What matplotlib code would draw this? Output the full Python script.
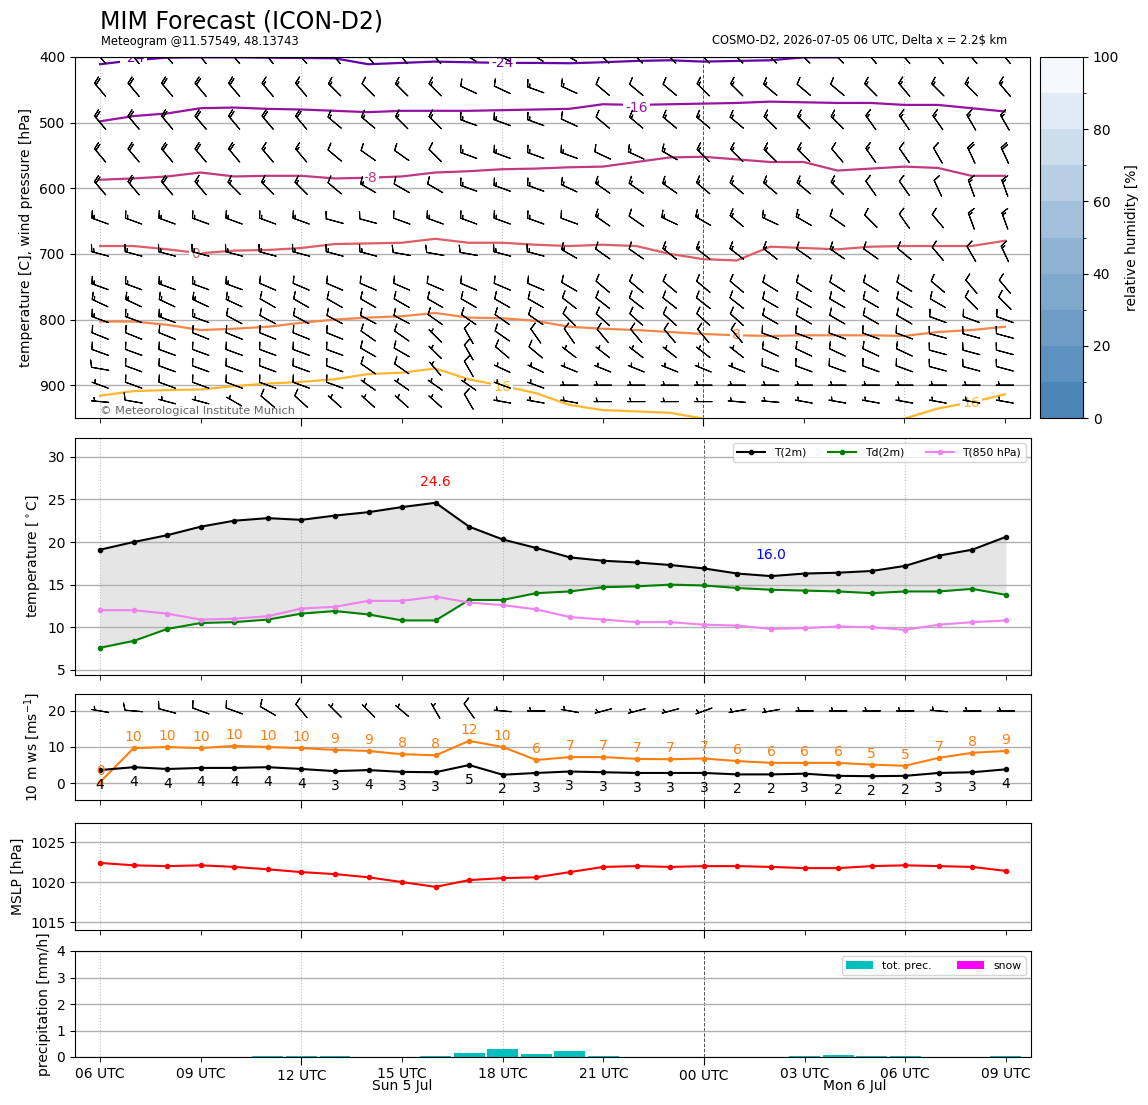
import numpy as np
import matplotlib
matplotlib.use('Agg')
import matplotlib.pyplot as plt
import matplotlib.transforms as mtransforms
from matplotlib.colors import LinearSegmentedColormap, BoundaryNorm
from matplotlib.cm import ScalarMappable

# ---------------- data ----------------
# hours after 2026-07-05 06 UTC
hours = np.arange(28)
tick_major = [6, 18]
tick_major_lab = ['12 UTC', '00 UTC']
tick_minor = [0, 3, 9, 12, 15, 21, 24, 27]
tick_minor_lab = ['06 UTC', '09 UTC', '15 UTC', '18 UTC', '21 UTC', '03 UTC', '06 UTC', '09 UTC']
day_pos = [9, 22.5]
day_lab = ['Sun 5 Jul', 'Mon 6 Jul']

# isotherms: pressure [hPa] of each temperature line per hour
nan = np.nan
iso_levels = [-24, -16, -8, 0, 8, 16]
iso_m24 = [411, 405, 401, 400.5, 400.5, 401, 401.5, 402, 411, 409, 407, 408, 409, 409,
           409.5, 408, 406, 405, 407, 406, 405, 400.5, 400.5, nan, nan, nan, nan, nan]
iso_m16 = [498, 490, 486, 478, 477, 479, 480, 482, 484, 482, 482, 482, 481, 480,
           479, 472, 473, 472, 471, 470, 468, 469, 470, 470, 473, 473, 478, 483]
iso_m8 = [587, 585, 582, 576, 582, 581, 581, 585, 584, 582, 576, 574, 571, 570,
          568, 567, 560, 553, 552, 556, 560, 560, 573, 570, 567, 569, 581, 581]
iso_0 = [688, 688, 693, 699, 695, 694, 691, 685, 684, 683, 677, 683, 683, 686,
         688, 686, 688, 700, 708, 710, 689, 691, 693, 689, 688, 688, 688, 680]
iso_8 = [803, 803, 808, 816, 814, 811, 805, 800, 797, 795, 790, 797, 798, 802,
         811, 814, 816, 819, 822, 824, 825, 824, 824, 824, 825, 819, 816, 811]
iso_16 = [916, 909, 907.5, 906.5, 901.5, 897.5, 895, 891, 883, 881, 874.5, 891, 901, 912,
          930, 938, 940, 942, 951, nan, nan, nan, nan, nan, 951, 935.5, 926, 914]

# upper winds: direction [deg] and speed [kn] per pressure level
levels = [400, 450, 500, 550, 600, 650, 700, 750, 775, 800, 825, 850, 875, 900, 925]
dir400 = [320, 320, 320, 320, 320, 320, 320, 320, 320, 320, 320, 300, 300, 300,
          300, 315, 315, 315, 315, 315, 315, 315, 315, 320, 320, 320, 320, 320]
spd400 = [20, 20, 20, 20, 20, 20, 20, 15, 15, 15, 15, 15, 15, 15,
          15, 15, 15, 15, 15, 15, 15, 15, 15, 15, 15, 15, 15, 15]
dir450 = [320, 320, 320, 320, 320, 320, 320, 315, 315, 315, 315, 295, 295, 290,
          295, 310, 310, 310, 315, 315, 310, 310, 310, 315, 320, 315, 315, 320]
spd450 = [20, 20, 20, 20, 20, 15, 15, 15, 10, 15, 15, 10, 10, 15,
          15, 10, 10, 10, 15, 15, 15, 10, 10, 15, 15, 15, 15, 15]
dir500 = [320, 320, 320, 320, 320, 320, 320, 310, 310, 315, 315, 290, 290, 290,
          295, 310, 310, 310, 310, 310, 315, 315, 315, 325, 325, 325, 330, 330]
spd500 = [20, 20, 20, 20, 20, 20, 20, 15, 15, 15, 15, 15, 15, 15,
          10, 10, 15, 15, 15, 15, 15, 15, 15, 15, 15, 15, 15, 15]
dir550 = [320, 320, 320, 320, 320, 320, 320, 310, 305, 305, 315, 290, 290, 290,
          290, 295, 295, 300, 315, 315, 315, 315, 320, 325, 325, 330, 335, 335]
spd550 = [20, 20, 20, 20, 20, 15, 15, 10, 10, 10, 10, 15, 15, 15,
          15, 10, 15, 15, 15, 15, 15, 15, 10, 15, 10, 10, 20, 20]
dir600 = [320, 320, 320, 320, 315, 315, 315, 310, 300, 300, 300, 290, 290, 290,
          295, 305, 305, 305, 310, 310, 310, 310, 315, 325, 325, 335, 340, 340]
spd600 = [20, 20, 20, 15, 15, 15, 15, 10, 15, 10, 10, 15, 15, 15,
          15, 15, 15, 15, 15, 15, 15, 15, 15, 10, 10, 10, 15, 15]
dir650 = [290, 290, 290, 290, 290, 290, 290, 285, 285, 290, 290, 290, 290, 290,
          290, 305, 305, 295, 300, 310, 295, 300, 305, 315, 325, 320, 340, 340]
spd650 = [15, 15, 15, 15, 15, 15, 15, 10, 10, 10, 15, 15, 15, 15,
          10, 15, 10, 15, 15, 15, 15, 15, 10, 10, 10, 10, 15, 15]
dir700 = [285, 285, 285, 285, 285, 285, 285, 285, 285, 280, 280, 280, 285, 285,
          300, 305, 305, 308, 308, 308, 308, 305, 305, 305, 310, 320, 330, 335]
spd700 = [15, 15, 15, 15, 15, 15, 15, 15, 15, 10, 10, 10, 15, 15,
          15, 10, 10, 15, 15, 15, 15, 10, 15, 10, 10, 10, 10, 15]
dir750 = [290, 290, 290, 290, 290, 293, 293, 293, 293, 293, 293, 293, 293, 293,
          300, 310, 310, 310, 310, 310, 302, 302, 302, 302, 302, 310, 320, 320]
spd750 = [15, 15, 15, 15, 15, 10, 10, 10, 10, 10, 10, 10, 10, 10,
          10, 10, 10, 10, 10, 10, 10, 10, 10, 10, 10, 10, 10, 10]
dir775 = [295, 295, 295, 295, 295, 300, 300, 300, 300, 300, 300, 300, 300, 300,
          308, 308, 308, 308, 308, 308, 300, 300, 300, 300, 300, 300, 315, 315]
spd775 = [15, 15, 15, 15, 15, 10, 10, 10, 10, 10, 10, 10, 10, 10,
          10, 10, 10, 10, 10, 10, 10, 10, 10, 10, 10, 10, 10, 10]
dir800 = [290, 290, 290, 290, 298, 298, 298, 298, 298, 298, 305, 305, 305, 305,
          315, 312, 312, 312, 312, 312, 300, 300, 300, 300, 300, 290, 290, 290]
spd800 = [15, 15, 15, 15, 10, 10, 10, 10, 10, 10, 10, 10, 10, 10,
          10, 10, 10, 10, 10, 10, 10, 10, 10, 10, 10, 10, 10, 10]
dir825 = [292, 292, 292, 292, 292, 292, 292, 292, 305, 305, 315, 330, 305, 325,
          325, 320, 320, 320, 320, 320, 290, 290, 290, 290, 290, 285, 285, 285]
spd825 = [10, 10, 10, 10, 10, 10, 10, 10, 10, 10, 5, 10, 10, 10,
          10, 10, 10, 10, 10, 10, 10, 10, 10, 10, 10, 10, 10, 10]
dir850 = [290, 290, 290, 290, 290, 290, 290, 290, 300, 300, 315, 330, 310, 310,
          308, 308, 308, 308, 308, 308, 295, 295, 295, 295, 295, 285, 285, 285]
spd850 = [10, 10, 10, 10, 10, 10, 10, 10, 10, 10, 5, 10, 10, 10,
          5, 5, 5, 5, 5, 5, 10, 10, 10, 10, 10, 10, 10, 10]
dir875 = [280, 290, 290, 290, 290, 290, 290, 290, 305, 305, 320, 330, 295, 295,
          292, 292, 292, 292, 292, 292, 290, 290, 290, 290, 290, 285, 285, 285]
spd875 = [10, 10, 10, 10, 10, 10, 10, 10, 10, 10, 5, 10, 5, 5,
          5, 5, 5, 5, 5, 5, 10, 10, 10, 10, 10, 10, 10, 10]
dir900 = [290, 290, 290, 290, 290, 290, 290, 290, 305, 305, 305, 305, 290, 290,
          270, 270, 270, 270, 270, 270, 270, 270, 270, 270, 270, 270, 270, 270]
spd900 = [5, 10, 10, 10, 10, 10, 10, 10, 5, 5, 5, 5, 5, 5,
          5, 5, 5, 5, 5, 5, 5, 5, 5, 5, 5, 5, 5, 5]
dir925 = [275, 280, 285, 285, 300, 310, 312, 312, 312, 312, 312, 330, 280, 280,
          280, 270, 270, 270, 270, 275, 275, 280, 280, 280, 280, 280, 280, 280]
spd925 = [5, 10, 5, 5, 5, 10, 10, 5, 5, 5, 5, 10, 5, 5,
          5, 5, 5, 5, 5, 5, 5, 5, 5, 5, 5, 5, 5, 5]

# 2 m temperatures [C]
t2m = [19.1, 20.0, 20.8, 21.8, 22.5, 22.8, 22.6, 23.1, 23.5, 24.1, 24.6, 21.8, 20.3, 19.3,
       18.2, 17.8, 17.6, 17.3, 16.9, 16.3, 16.0, 16.3, 16.4, 16.6, 17.2, 18.4, 19.1, 20.6]
td2m = [7.6, 8.4, 9.8, 10.5, 10.6, 10.9, 11.6, 11.9, 11.5, 10.8, 10.8, 13.2, 13.2, 14.0,
        14.2, 14.7, 14.8, 15.0, 14.9, 14.6, 14.4, 14.3, 14.2, 14.0, 14.2, 14.2, 14.5, 13.8]
t850 = [12.0, 12.0, 11.6, 10.9, 11.0, 11.3, 12.2, 12.4, 13.1, 13.1, 13.6, 12.9, 12.6, 12.1,
        11.2, 10.9, 10.6, 10.6, 10.3, 10.2, 9.8, 9.9, 10.1, 10.0, 9.7, 10.3, 10.6, 10.8]

# 10 m wind speed and gusts [m/s], direction [deg]
ws10 = [3.6, 4.4, 3.9, 4.2, 4.2, 4.4, 3.9, 3.3, 3.6, 3.1, 3.0, 5.0, 2.3, 2.8,
        3.2, 3.0, 2.8, 2.8, 2.8, 2.4, 2.4, 2.6, 2.0, 1.9, 2.0, 2.8, 3.0, 3.8]
gust10 = [0.3, 9.7, 10.0, 9.7, 10.3, 10.0, 9.7, 9.2, 8.9, 8.0, 7.7, 11.7, 10.0, 6.4,
          7.2, 7.2, 6.7, 6.6, 6.8, 6.1, 5.6, 5.6, 5.6, 5.1, 4.8, 7.0, 8.4, 8.9]
dir10 = [280, 275, 285, 290, 290, 300, 320, 315, 315, 310, 330, 325, 275, 270,
         280, 255, 255, 255, 250, 260, 260, 270, 270, 270, 270, 275, 270, 270]

# mean sea level pressure [hPa]
mslp = [1022.4, 1022.1, 1022.0, 1022.1, 1021.9, 1021.6, 1021.25, 1021.0, 1020.6, 1020.0,
        1019.4, 1020.25, 1020.5, 1020.6, 1021.25, 1021.9, 1022.0, 1021.9, 1022.0, 1022.0,
        1021.9, 1021.75, 1021.75, 1022.0, 1022.1, 1022.0, 1021.9, 1021.4]

# precipitation [mm/h]
prec = [0, 0, 0, 0, 0, 0.02, 0.02, 0.02, 0, 0, 0.02, 0.15, 0.32, 0.13,
        0.24, 0.02, 0, 0, 0, 0, 0, 0.02, 0.07, 0.03, 0.03, 0, 0, 0.03]
snow = [0] * 28

# ---------------- figure ----------------
W, H = 1148, 1105
fig = plt.figure(figsize=(W / 100, H / 100), dpi=100)


def box(x0, y0, x1, y1):
    return [x0 / W, 1 - y1 / H, (x1 - x0) / W, (y1 - y0) / H]


ax1 = fig.add_axes(box(75, 57, 1030, 418))
cax = fig.add_axes(box(1040, 57, 1083, 418))
ax2 = fig.add_axes(box(75, 438, 1031, 675))
ax3 = fig.add_axes(box(75, 694, 1031, 800))
ax4 = fig.add_axes(box(75, 823, 1031, 930))
ax5 = fig.add_axes(box(75, 951, 1031, 1057))
axes = [ax1, ax2, ax3, ax4, ax5]

for ax in axes:
    ax.set_xlim(-0.75, 27.75)
    ax.set_xticks(tick_major)
    ax.set_xticks(tick_minor, minor=True)
    ax.tick_params(axis='x', which='major', length=5.5)
    ax.tick_params(axis='x', which='minor', length=3.5)
    ax.grid(axis='y', color='#b0b0b0', lw=1)
    for h in [0, 6, 12, 24]:
        ax.axvline(h, color='#c0c0c0', ls=':', lw=0.8, zorder=1)
    ax.axvline(18, color='#555555', ls='--', lw=0.7, zorder=1)
    if ax is not ax5:
        ax.tick_params(axis='x', which='both', labelbottom=False)

ax5.set_xticklabels(tick_major_lab)
ax5.set_xticklabels(tick_minor_lab, minor=True)
ax5.tick_params(axis='x', which='minor', labelsize=10)
trans = mtransforms.blended_transform_factory(ax5.transData, ax5.transAxes)
for xp, lab in zip(day_pos, day_lab):
    ax5.text(xp, -0.275, lab, transform=trans, ha='center', va='center', fontsize=10)

# ---------- panel 1: isotherms and winds aloft ----------
iso_data = [iso_m24, iso_m16, iso_m8, iso_0, iso_8, iso_16]
iso_colors = [plt.cm.plasma(c) for c in [0.19, 0.32, 0.45, 0.58, 0.71, 0.84]]
for data, col in zip(iso_data, iso_colors):
    ax1.plot(hours, data, color=col, lw=1.6, zorder=2)

iso_lab_pos = [(-24, 1.0, 401), (-24, 12.0, 409), (-16, 16.0, 478), (-8, 8.05, 585),
               (0, 2.85, 700), (8, 19.0, 823), (16, 12.0, 903), (16, 26.0, 927)]
for lev, xp, yp in iso_lab_pos:
    col = iso_colors[iso_levels.index(lev)]
    ax1.text(xp, yp, f'{lev}', color=col, fontsize=10, ha='center', va='center',
             zorder=2.5, clip_on=True,
             bbox=dict(boxstyle='square,pad=0.15', fc='white', ec='none'))

wdir = np.array([dir400, dir450, dir500, dir550, dir600, dir650, dir700, dir750,
                 dir775, dir800, dir825, dir850, dir875, dir900, dir925], dtype=float)
wspd = np.array([spd400, spd450, spd500, spd550, spd600, spd650, spd700, spd750,
                 spd775, spd800, spd825, spd850, spd875, spd900, spd925], dtype=float)
uu = -wspd * np.sin(np.deg2rad(wdir))
vv = -wspd * np.cos(np.deg2rad(wdir))
XX, YY = np.meshgrid(hours, levels)
ax1.barbs(XX, YY, uu, vv, length=5, pivot='middle', lw=0.8, zorder=3)

ax1.set_ylim(950, 400)
ax1.set_yticks([400, 500, 600, 700, 800, 900])
ax1.set_ylabel('temperature [C], wind pressure [hPa]')
ax1.text(0, 940, '\u00a9 Meteorological Institute Munich', fontsize=8.2, color='#666666',
         ha='left', va='center', zorder=4)

# colorbar for relative humidity
rh_levels = np.arange(0, 101, 10)
rh_cmap = LinearSegmentedColormap.from_list('rh', ['#4c85b8', '#98b9d7', '#f5f9fd'], N=10)
sm = ScalarMappable(norm=BoundaryNorm(rh_levels, 10), cmap=rh_cmap)
cb = fig.colorbar(sm, cax=cax)
cb.set_ticks([0, 20, 40, 60, 80, 100])
cb.set_label('relative humidity [%]')

# ---------- panel 2: temperatures ----------
ax2.fill_between(hours, t2m, td2m, color='grey', alpha=0.2, lw=0)
ax2.plot(hours, t2m, '.-', color='black', lw=1.5, ms=6, label='T(2m)')
ax2.plot(hours, td2m, '.-', color='green', lw=1.5, ms=6, label='Td(2m)')
ax2.plot(hours, t850, '.-', color='violet', lw=1.5, ms=6, label='T(850 hPa)')
imax = int(np.argmax(t2m))
imin = int(np.argmin(t2m))
ax2.text(hours[imax], t2m[imax] + 2, f'{t2m[imax]:.1f}', color='red', ha='center', fontsize=10)
ax2.text(hours[imin], t2m[imin] + 2, f'{t2m[imin]:.1f}', color='blue', ha='center', fontsize=10)
ax2.set_ylim(4.4, 32.2)
ax2.set_yticks([5, 10, 15, 20, 25, 30])
ax2.set_ylabel('temperature [$^\\circ$C]')
ax2.legend(loc='upper right', ncol=3, fontsize=7.8, handlelength=2.6, columnspacing=2.0)

# ---------- panel 3: 10 m wind ----------
ax3.plot(hours, gust10, '.-', color='#ff7f0e', lw=1.5, ms=6)
ax3.plot(hours, ws10, '.-', color='black', lw=1.5, ms=6)
for h, g in zip(hours, gust10):
    ax3.annotate(f'{round(g)}', (h, g), xytext=(0, 8), textcoords='offset points',
                 ha='center', va='center', color='#ff7f0e', fontsize=10)
for h, w in zip(hours, ws10):
    ax3.annotate(f'{round(w)}', (h, w), xytext=(0, -10.5), textcoords='offset points',
                 ha='center', va='center', color='black', fontsize=10)
ws_kn = np.array(ws10) * 1.94384
u10 = -ws_kn * np.sin(np.deg2rad(dir10))
v10 = -ws_kn * np.cos(np.deg2rad(dir10))
ax3.barbs(hours, np.full(28, 20.0), u10, v10, length=5, pivot='middle', lw=0.8, zorder=3)
ax3.set_ylim(-4.7, 24.7)
ax3.set_yticks([0, 10, 20])
ax3.set_ylabel('10 m ws [ms$^{-1}$]')

# ---------- panel 4: MSLP ----------
ax4.plot(hours, mslp, '.-', color='red', lw=1.5, ms=6)
ax4.set_ylim(1014, 1027.4)
ax4.set_yticks([1015, 1020, 1025])
ax4.set_ylabel('MSLP [hPa]')

# ---------- panel 5: precipitation ----------
ax5.bar(hours, prec, width=0.92, color='c', label='tot. prec.', zorder=2)
ax5.bar(hours, snow, width=0.92, color='magenta', label='snow', zorder=2)
ax5.set_ylim(0, 4)
ax5.set_yticks([0, 1, 2, 3, 4])
ax5.set_ylabel('precipitation [mm/h]')
ax5.legend(loc='upper right', ncol=2, fontsize=7.8, handlelength=2.5, columnspacing=2.4)

# ---------- titles ----------
fig.text(100 / W, 1 - 21 / H, 'MIM Forecast (ICON-D2)', fontsize=17, ha='left', va='center')
fig.text(101 / W, 1 - 41 / H, 'Meteogram @11.57549, 48.13743', fontsize=8.3, ha='left', va='center')
fig.text(1007 / W, 1 - 41 / H, 'COSMO-D2, 2026-07-05 06 UTC, Delta x = 2.2\\$ km', fontsize=8.3,
         ha='right', va='center')

fig.savefig('out.png', dpi=100)
